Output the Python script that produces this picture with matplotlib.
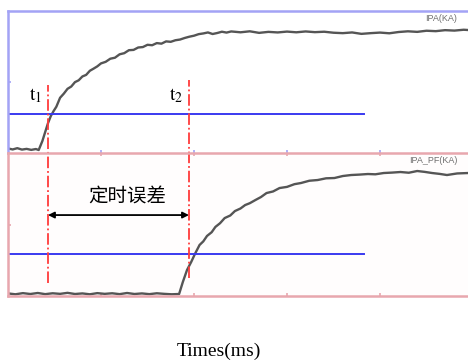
import matplotlib
matplotlib.use("Agg")
import matplotlib.pyplot as plt

plt.rcParams["mathtext.fontset"] = "stix"

# measured currents, time in ms, current in % of panel scale (kA)
t_ipa = [0.0, 0.5, 1.0, 1.5, 2.0, 2.5, 3.0, 3.3, 3.7, 4.0, 4.3, 4.6, 4.9, 5.2,
         5.6, 6.0, 6.4, 6.8, 7.2, 7.6, 8.0, 8.4, 8.8, 9.2, 9.6, 10.0, 10.5,
         11.0, 11.5, 12.0, 12.5, 13.0, 13.5, 14.0, 14.5, 15.0, 15.5, 16.0,
         16.5, 17.0, 17.5, 18.0, 18.5, 19.0, 19.5, 20.0, 20.5, 21.0, 21.5,
         22.0, 22.5, 23.0, 23.5, 24.0, 25.0, 26.0, 27.0, 28.0, 29.0, 30.0,
         31.0, 32.0, 33.0, 34.0, 35.0, 36.0, 37.0, 38.0, 39.0, 40.0, 41.0,
         42.0, 43.0, 44.0, 45.0, 46.0, 47.0, 48.0, 49.0, 50.0]
ipa = [3.2, 2.5, 3.4, 2.4, 2.9, 2.2, 2.8, 2.1, 8.5, 14.8, 21.0, 26.0, 29.5,
       32.6, 38.9, 41.8, 45.2, 46.8, 49.9, 51.2, 53.9, 55.0, 57.9, 59.4, 61.0,
       63.1, 64.2, 66.4, 67.1, 69.5, 70.3, 72.4, 72.6, 74.3, 74.6, 76.2, 75.9,
       77.4, 77.0, 78.6, 78.3, 79.4, 79.9, 81.0, 81.9, 82.6, 83.7, 84.2, 84.9,
       83.8, 84.5, 85.4, 84.8, 85.6, 85.0, 85.7, 84.6, 85.3, 84.9, 85.5, 85.0,
       85.6, 85.1, 85.4, 84.7, 84.4, 84.9, 83.9, 84.4, 84.8, 84.3, 85.2, 85.7,
       85.3, 86.1, 85.8, 86.5, 86.2, 86.8, 86.4]

t_pf = [0.0, 0.8, 1.6, 2.4, 3.2, 4.0, 4.8, 5.6, 6.4, 7.2, 8.0, 8.8, 9.6, 10.4,
        11.2, 12.0, 12.8, 13.6, 14.4, 15.2, 16.0, 16.8, 17.6, 18.4, 18.8,
        19.25, 19.7, 20.1, 20.6, 21.0, 21.4, 21.9, 22.3, 22.8, 23.3, 23.9,
        24.4, 25.0, 25.5, 26.0, 26.6, 27.2, 27.8, 28.5, 29.2, 30.0, 30.8,
        31.5, 32.4, 33.3, 34.2, 35.1, 36.0, 36.9, 37.8, 38.7, 39.5, 40.4,
        41.3, 42.2, 43.1, 44.0, 44.8, 45.6, 46.4, 47.2, 48.3, 49.5, 50.0]
ipa_pf = [1.8, 1.2, 2.0, 1.4, 2.1, 1.3, 1.9, 1.5, 2.2, 1.4, 1.8, 1.2, 2.0, 1.5,
          1.9, 1.3, 2.1, 1.4, 1.8, 1.3, 1.9, 1.5, 1.2, 1.4, 9.8, 18.2, 23.8,
          29.4, 35.7, 38.2, 42.0, 44.6, 48.3, 50.9, 54.5, 56.3, 59.4, 61.2,
          63.6, 64.9, 67.1, 69.2, 72.0, 73.1, 75.5, 76.3, 78.2, 79.0, 80.6,
          81.1, 82.3, 82.5, 83.9, 84.6, 84.9, 85.3, 85.1, 86.0, 86.3, 86.7,
          86.2, 87.4, 86.8, 86.0, 85.4, 84.6, 85.7, 86.0, 85.8]

threshold_ipa = 27.5
threshold_pf = 29.4
threshold_end = 38.3
t1 = 4.3
t2 = 19.46
ticks_t = [10, 20, 30, 40]

W, H = 468, 361
fig = plt.figure(figsize=(W / 100, H / 100), dpi=100)
fig.patch.set_facecolor("white")

BLUE_FRAME = "#a3a3f5"
PINK_FRAME = "#e8a7ae"
CURVE = "#555555"
THRESH = "#3a3af0"
RED = "#ff3b3b"

ax_top = fig.add_axes([8 / W, (H - 153) / H, 465 / W, 142 / H])
ax_bot = fig.add_axes([8 / W, (H - 296) / H, 465 / W, 143 / H])

for ax in (ax_top, ax_bot):
    ax.set_xlim(0, 50)
    ax.set_ylim(0, 100)
    ax.set_xticks(ticks_t)
    ax.set_yticks([50])
    ax.tick_params(direction="in", length=2.5, width=1.2,
                   labelbottom=False, labelleft=False)
    ax.spines["right"].set_visible(False)

ax_top.set_facecolor("none")
ax_top.spines["top"].set_color(BLUE_FRAME)
ax_top.spines["left"].set_color(BLUE_FRAME)
ax_top.spines["bottom"].set_visible(False)
for s in ("top", "left"):
    ax_top.spines[s].set_linewidth(1.8)
ax_top.tick_params(colors=BLUE_FRAME)

ax_bot.set_facecolor("#fffdfd")
for s in ("top", "left", "bottom"):
    ax_bot.spines[s].set_color(PINK_FRAME)
    ax_bot.spines[s].set_linewidth(1.8)
ax_bot.tick_params(colors=PINK_FRAME, top=True)

# signals
ax_top.plot(t_ipa, ipa, color=CURVE, lw=1.7)
ax_bot.plot(t_pf, ipa_pf, color=CURVE, lw=1.7)

# trigger thresholds
ax_top.plot([0, threshold_end], [threshold_ipa, threshold_ipa], color=THRESH, lw=1.4)
ax_bot.plot([0, threshold_end], [threshold_pf, threshold_pf], color=THRESH, lw=1.4)

# timing markers, spanning both panels (bottom-panel units)
ax_bot.plot([t1, t1], [9.1, 147.6], color=RED, lw=1.3, ls="-.", clip_on=False)
ax_bot.plot([t2, t2], [12.6, 151.0], color=RED, lw=1.3, ls="-.", clip_on=False)

ax_bot.annotate("", xy=(t1, 56.6), xytext=(t2, 56.6),
                arrowprops=dict(arrowstyle="<|-|>", color="black", lw=1.3,
                                mutation_scale=9, shrinkA=0, shrinkB=0))
ax_bot.text(12.8, 69.5, "定时误差", ha="center", va="center",
            fontsize=14, family=["Noto Sans CJK SC", "DejaVu Sans"])

ax_top.text(3.0, 33.5, r"$\mathrm{t}_{1}$", fontsize=14, ha="center", va="bottom")
ax_top.text(18.1, 33.5, r"$\mathrm{t}_{2}$", fontsize=14, ha="center", va="bottom")

ax_top.text(48.3, 95, "IPA(KA)", ha="right", va="center", fontsize=6.5,
            color="#707070", family="Liberation Sans")
ax_bot.text(48.3, 95, "IPA_PF(KA)", ha="right", va="center", fontsize=6.5,
            color="#707070", family="Liberation Sans")

fig.text(219 / W, 1 - 351 / H, "Times(ms)", ha="center", va="center",
         fontsize=14, family="Liberation Serif")

fig.savefig("out.png", dpi=100, facecolor="white")
